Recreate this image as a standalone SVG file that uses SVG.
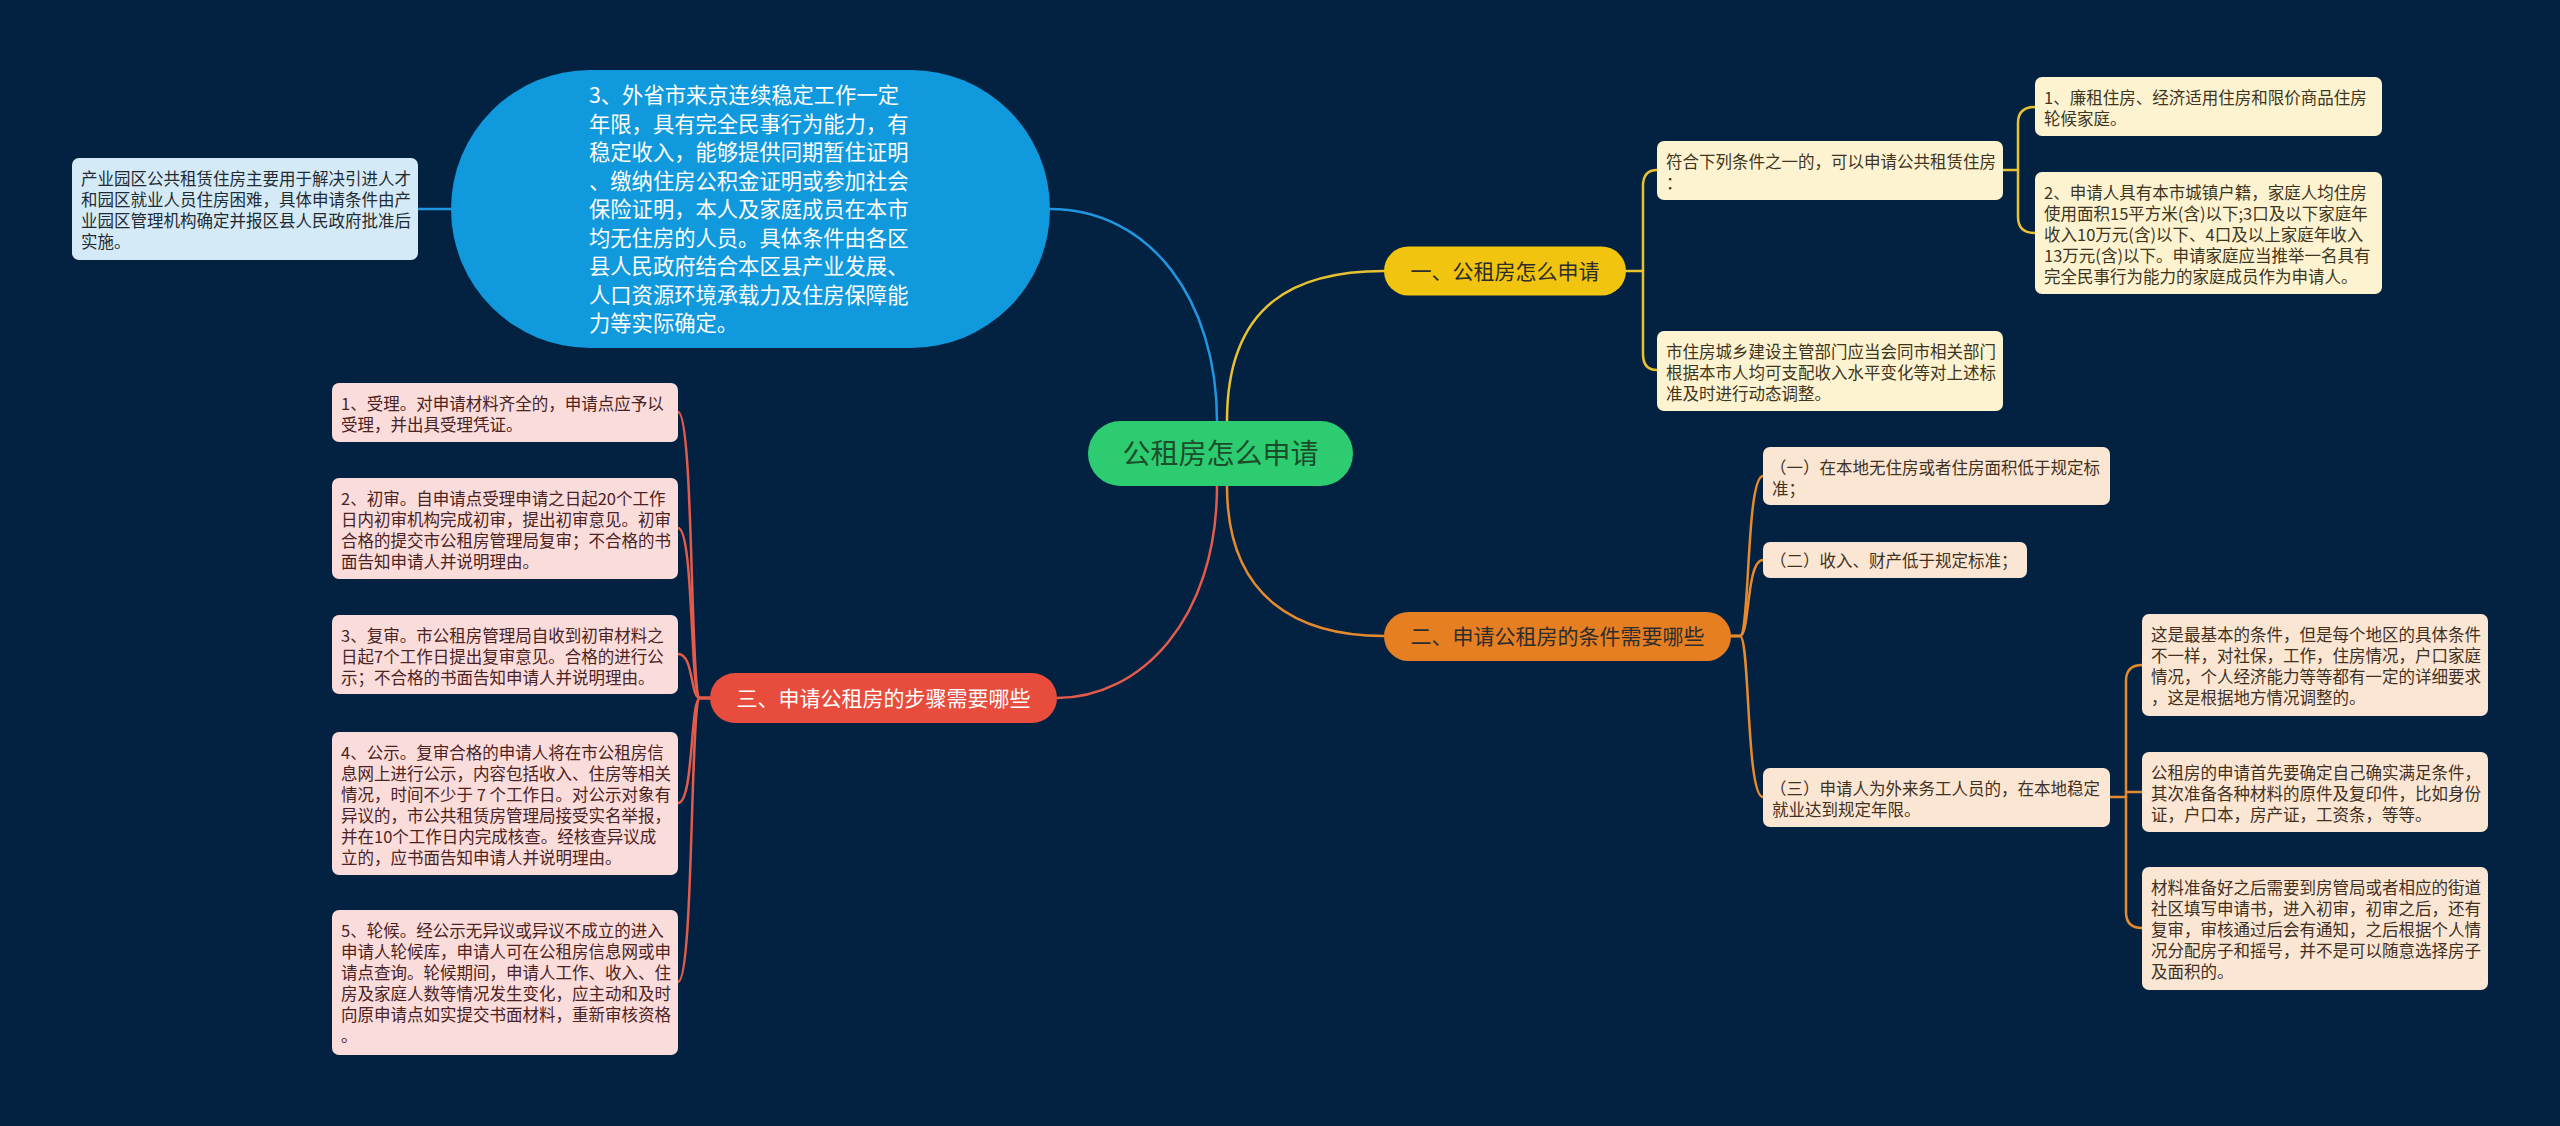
<svg xmlns="http://www.w3.org/2000/svg" width="2560" height="1126" viewBox="0 0 2560 1126">
<style>
text { font-family: "Noto Sans CJK SC", "Noto Sans", sans-serif; }
.conn path { fill: none; stroke-linecap: round; stroke-linejoin: round; }
.cb { stroke: #2196e0; stroke-width: 2.5; }
.cy { stroke: #e8c230; stroke-width: 2.5; }
.co { stroke: #e68a2e; stroke-width: 2.5; }
.cr { stroke: #e35b4a; stroke-width: 2.5; }
.s { font-size: 16.5px; }
.bx { stroke: none; }
.lb { fill: #d4ebf7; }
.ly { fill: #fdf3d1; }
.lo { fill: #fbe6d4; }
.lr { fill: #fadcdb; }
.tb { fill: #1f2a33; }
.ty { fill: #3d3520; }
.to { fill: #40301f; }
.tr { fill: #4a2222; }
.l1 { font-size: 21px; }
</style>
<rect x="0" y="0" width="2560" height="1126" fill="#032241"/>

<g id="connectors" class="conn">
  <path class="cb" d="M1217 421 C1217 300 1150 209 1050 209"/>
  <path class="cb" d="M451 209 L418 209"/>
  <path class="cy" d="M1227 421 C1227 300 1300 271 1384 271"/>
  <path class="co" d="M1227 486 C1227 600 1300 636 1384 636"/>
  <path class="cr" d="M1217 486 C1217 620 1140 698 1057 698"/>
  <!-- yellow children -->
  <path class="cy" d="M1626 271 L1643 271"/>
  <path class="cy" d="M1657 170 Q1643 170 1643 186 L1643 354 Q1643 370 1657 370"/>
  <path class="cy" d="M2003 170 L2018 170"/>
  <path class="cy" d="M2035 107 Q2018 107 2018 123 L2018 217 Q2018 233 2035 233"/>
  <!-- orange children -->
  <path class="co" d="M1731 636 L1740 636 C1750 636 1746 476 1763 476"/>
  <path class="co" d="M1731 636 L1740 636 C1750 636 1746 560 1763 560"/>
  <path class="co" d="M1731 636 L1740 636 C1750 636 1746 797 1763 797"/>
  <path class="co" d="M2110 797 L2126 797"/>
  <path class="co" d="M2142 665 Q2126 665 2126 681 L2126 912 Q2126 928 2142 928"/>
  <path class="co" d="M2126 792 L2142 792"/>
  <!-- red children -->
  <path class="cr" d="M710 698 L700 698 C690 698 694 412 678 412"/>
  <path class="cr" d="M710 698 L700 698 C690 698 694 528 678 528"/>
  <path class="cr" d="M710 698 L700 698 C690 698 694 654 678 654"/>
  <path class="cr" d="M710 698 L700 698 C690 698 694 803 678 803"/>
  <path class="cr" d="M710 698 L700 698 C690 698 694 982 678 982"/>
</g>

<g id="root">
  <rect x="1088" y="421" width="265" height="65" rx="32.5" fill="#2ecc71"/>
  <text x="1220.5" y="464" font-size="28" fill="#1a4d2a" text-anchor="middle">公租房怎么申请</text>
</g>

<g id="blue-main">
  <rect x="451" y="70" width="599" height="278" rx="139" fill="#1199dd"/>
  <text font-size="21.3" fill="#ffffff">
    <tspan x="589" y="103">3、外省市来京连续稳定工作一定</tspan>
    <tspan x="589" y="131.5">年限，具有完全民事行为能力，有</tspan>
    <tspan x="589" y="160">稳定收入，能够提供同期暂住证明</tspan>
    <tspan x="589" y="188.5">、缴纳住房公积金证明或参加社会</tspan>
    <tspan x="589" y="217">保险证明，本人及家庭成员在本市</tspan>
    <tspan x="589" y="245.5">均无住房的人员。具体条件由各区</tspan>
    <tspan x="589" y="274">县人民政府结合本区县产业发展、</tspan>
    <tspan x="589" y="302.5">人口资源环境承载力及住房保障能</tspan>
    <tspan x="589" y="331">力等实际确定。</tspan>
  </text>
</g>

<g id="blue-sub">
  <rect class="bx lb" x="72" y="158" width="346" height="102" rx="7"/>
  <text class="s tb">
    <tspan x="81" y="184.5">产业园区公共租赁住房主要用于解决引进人才</tspan>
    <tspan x="81" y="205.5">和园区就业人员住房困难，具体申请条件由产</tspan>
    <tspan x="81" y="226.5">业园区管理机构确定并报区县人民政府批准后</tspan>
    <tspan x="81" y="247.5">实施。</tspan>
  </text>
</g>

<g id="yellow-main">
  <rect x="1384" y="246.5" width="242" height="49" rx="24.5" fill="#f1c40f"/>
  <text class="l1" x="1505" y="278.5" fill="#2d2d2d" text-anchor="middle">一、公租房怎么申请</text>
</g>

<g id="yellow-c1">
  <rect class="bx ly" x="1657" y="141" width="346" height="59" rx="7"/>
  <text class="s ty">
    <tspan x="1666" y="167.5">符合下列条件之一的，可以申请公共租赁住房</tspan>
    <tspan x="1666" y="188.5">：</tspan>
  </text>
</g>

<g id="yellow-c2">
  <rect class="bx ly" x="1657" y="331" width="346" height="80" rx="7"/>
  <text class="s ty">
    <tspan x="1666" y="357.5">市住房城乡建设主管部门应当会同市相关部门</tspan>
    <tspan x="1666" y="378.5">根据本市人均可支配收入水平变化等对上述标</tspan>
    <tspan x="1666" y="399.5">准及时进行动态调整。</tspan>
  </text>
</g>

<g id="yellow-gc1">
  <rect class="bx ly" x="2035" y="77" width="347" height="59" rx="7"/>
  <text class="s ty">
    <tspan x="2044" y="103.5">1、廉租住房、经济适用住房和限价商品住房</tspan>
    <tspan x="2044" y="124.5">轮候家庭。</tspan>
  </text>
</g>

<g id="yellow-gc2">
  <rect class="bx ly" x="2035" y="172" width="347" height="122" rx="7"/>
  <text class="s ty">
    <tspan x="2044" y="198.5">2、申请人具有本市城镇户籍，家庭人均住房</tspan>
    <tspan x="2044" y="219.5">使用面积15平方米(含)以下;3口及以下家庭年</tspan>
    <tspan x="2044" y="240.5">收入10万元(含)以下、4口及以上家庭年收入</tspan>
    <tspan x="2044" y="261.5">13万元(含)以下。申请家庭应当推举一名具有</tspan>
    <tspan x="2044" y="282.5">完全民事行为能力的家庭成员作为申请人。</tspan>
  </text>
</g>

<g id="orange-main">
  <rect x="1384" y="612" width="347" height="49" rx="24.5" fill="#e67e22"/>
  <text class="l1" x="1557.5" y="644" fill="#2d2d2d" text-anchor="middle">二、申请公租房的条件需要哪些</text>
</g>

<g id="orange-c1">
  <rect class="bx lo" x="1763" y="447" width="347" height="58" rx="7"/>
  <text class="s to">
    <tspan x="1770" y="473.5">（一）在本地无住房或者住房面积低于规定标</tspan>
    <tspan x="1772" y="494.5">准；</tspan>
  </text>
</g>

<g id="orange-c2">
  <rect class="bx lo" x="1763" y="542" width="264" height="36" rx="7"/>
  <text class="s to" x="1770" y="566.5">（二）收入、财产低于规定标准；</text>
</g>

<g id="orange-c3">
  <rect class="bx lo" x="1763" y="768" width="347" height="59" rx="7"/>
  <text class="s to">
    <tspan x="1770" y="794.5">（三）申请人为外来务工人员的，在本地稳定</tspan>
    <tspan x="1772" y="815.5">就业达到规定年限。</tspan>
  </text>
</g>

<g id="orange-gc1">
  <rect class="bx lo" x="2142" y="614" width="346" height="102" rx="7"/>
  <text class="s to">
    <tspan x="2151" y="640.5">这是最基本的条件，但是每个地区的具体条件</tspan>
    <tspan x="2151" y="661.5">不一样，对社保，工作，住房情况，户口家庭</tspan>
    <tspan x="2151" y="682.5">情况，个人经济能力等等都有一定的详细要求</tspan>
    <tspan x="2151" y="703.5">，这是根据地方情况调整的。</tspan>
  </text>
</g>

<g id="orange-gc2">
  <rect class="bx lo" x="2142" y="752" width="346" height="80" rx="7"/>
  <text class="s to">
    <tspan x="2151" y="778.5">公租房的申请首先要确定自己确实满足条件，</tspan>
    <tspan x="2151" y="799.5">其次准备各种材料的原件及复印件，比如身份</tspan>
    <tspan x="2151" y="820.5">证，户口本，房产证，工资条，等等。</tspan>
  </text>
</g>

<g id="orange-gc3">
  <rect class="bx lo" x="2142" y="867" width="346" height="123" rx="7"/>
  <text class="s to">
    <tspan x="2151" y="893.5">材料准备好之后需要到房管局或者相应的街道</tspan>
    <tspan x="2151" y="914.5">社区填写申请书，进入初审，初审之后，还有</tspan>
    <tspan x="2151" y="935.5">复审，审核通过后会有通知，之后根据个人情</tspan>
    <tspan x="2151" y="956.5">况分配房子和摇号，并不是可以随意选择房子</tspan>
    <tspan x="2151" y="977.5">及面积的。</tspan>
  </text>
</g>

<g id="red-main">
  <rect x="710" y="673" width="347" height="50" rx="25" fill="#e74c3c"/>
  <text class="l1" x="883.5" y="705.5" fill="#ffffff" text-anchor="middle">三、申请公租房的步骤需要哪些</text>
</g>

<g id="red-c1">
  <rect class="bx lr" x="332" y="383" width="346" height="59" rx="7"/>
  <text class="s tr">
    <tspan x="341" y="409.5">1、受理。对申请材料齐全的，申请点应予以</tspan>
    <tspan x="341" y="430.5">受理，并出具受理凭证。</tspan>
  </text>
</g>

<g id="red-c2">
  <rect class="bx lr" x="332" y="478" width="346" height="101" rx="7"/>
  <text class="s tr">
    <tspan x="341" y="504.5">2、初审。自申请点受理申请之日起20个工作</tspan>
    <tspan x="341" y="525.5">日内初审机构完成初审，提出初审意见。初审</tspan>
    <tspan x="341" y="546.5">合格的提交市公租房管理局复审；不合格的书</tspan>
    <tspan x="341" y="567.5">面告知申请人并说明理由。</tspan>
  </text>
</g>

<g id="red-c3">
  <rect class="bx lr" x="332" y="615" width="346" height="79" rx="7"/>
  <text class="s tr">
    <tspan x="341" y="641.5">3、复审。市公租房管理局自收到初审材料之</tspan>
    <tspan x="341" y="662.5">日起7个工作日提出复审意见。合格的进行公</tspan>
    <tspan x="341" y="683.5">示；不合格的书面告知申请人并说明理由。</tspan>
  </text>
</g>

<g id="red-c4">
  <rect class="bx lr" x="332" y="732" width="346" height="143" rx="7"/>
  <text class="s tr">
    <tspan x="341" y="758.5">4、公示。复审合格的申请人将在市公租房信</tspan>
    <tspan x="341" y="779.5">息网上进行公示，内容包括收入、住房等相关</tspan>
    <tspan x="341" y="800.5">情况，时间不少于 7 个工作日。对公示对象有</tspan>
    <tspan x="341" y="821.5">异议的，市公共租赁房管理局接受实名举报，</tspan>
    <tspan x="341" y="842.5">并在10个工作日内完成核查。经核查异议成</tspan>
    <tspan x="341" y="863.5">立的，应书面告知申请人并说明理由。</tspan>
  </text>
</g>

<g id="red-c5">
  <rect class="bx lr" x="332" y="910" width="346" height="145" rx="7"/>
  <text class="s tr">
    <tspan x="341" y="936.5">5、轮候。经公示无异议或异议不成立的进入</tspan>
    <tspan x="341" y="957.5">申请人轮候库，申请人可在公租房信息网或申</tspan>
    <tspan x="341" y="978.5">请点查询。轮候期间，申请人工作、收入、住</tspan>
    <tspan x="341" y="999.5">房及家庭人数等情况发生变化，应主动和及时</tspan>
    <tspan x="341" y="1020.5">向原申请点如实提交书面材料，重新审核资格</tspan>
    <tspan x="341" y="1041.5">。</tspan>
  </text>
</g>
</svg>
